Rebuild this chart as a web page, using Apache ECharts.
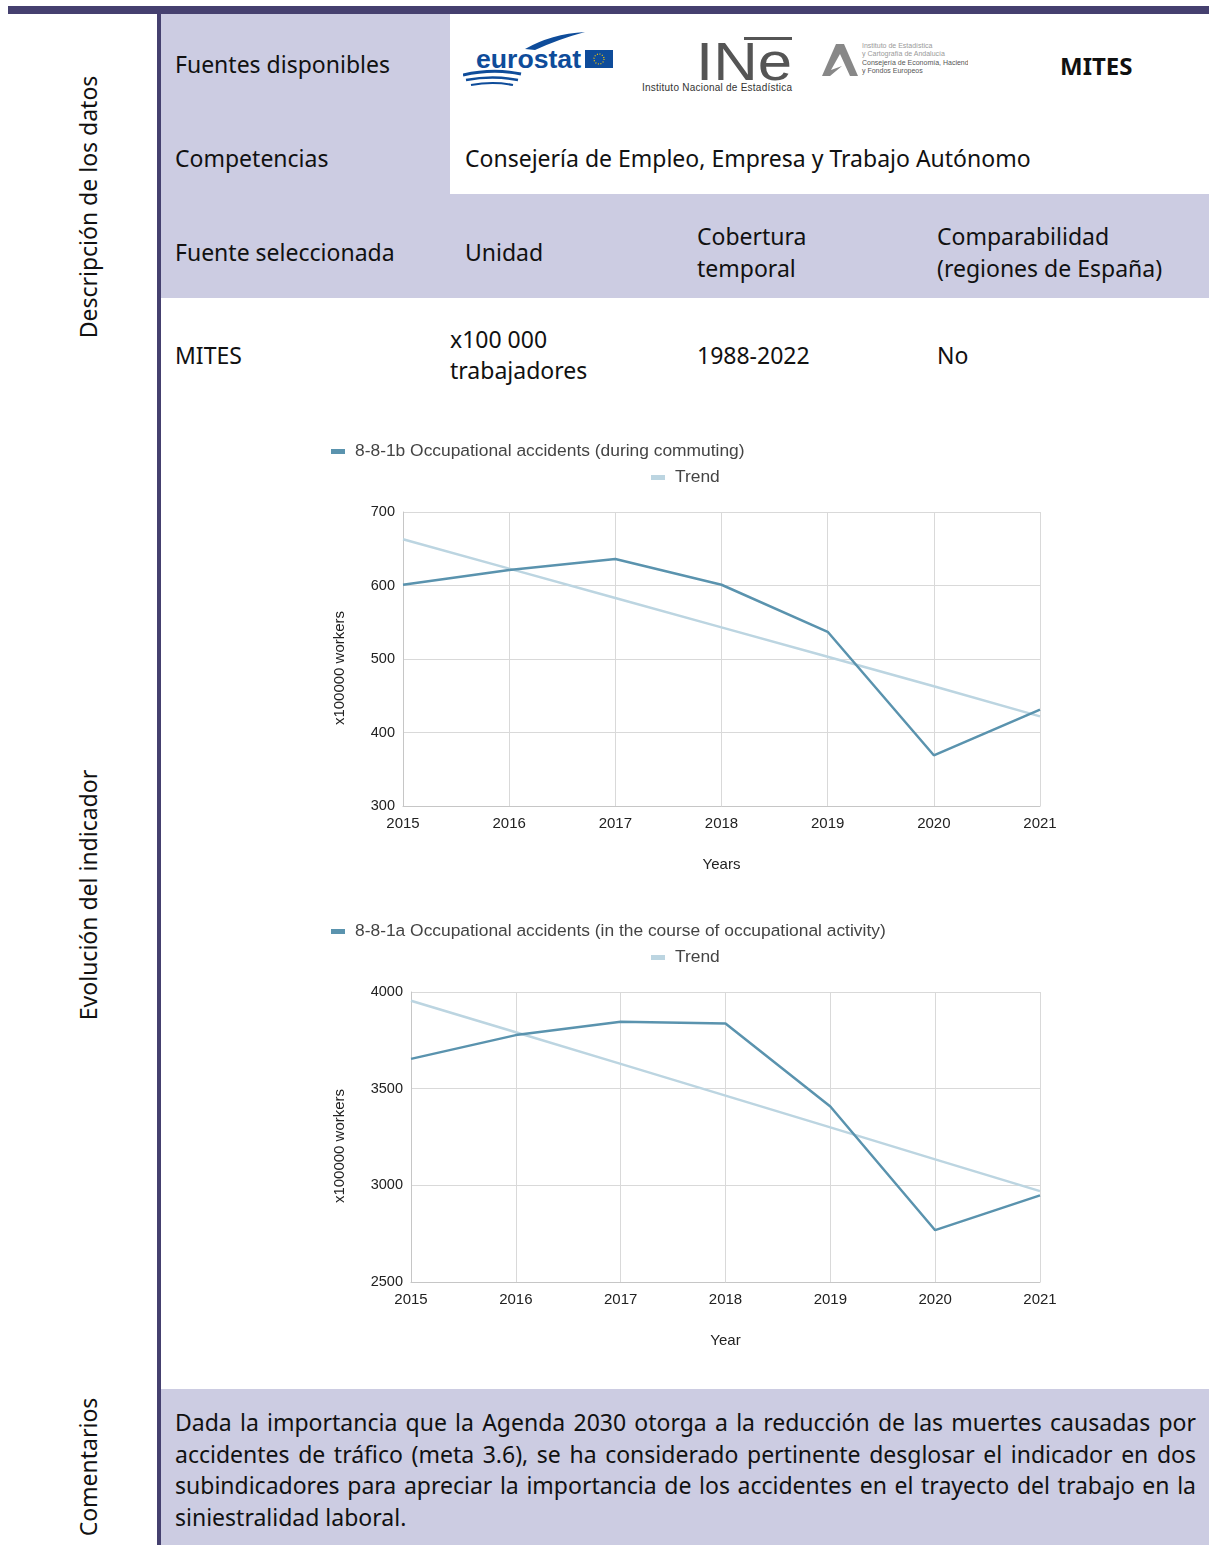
<!DOCTYPE html>
<html>
<head>
<meta charset="utf-8">
<script src="https://cdn.jsdelivr.net/npm/echarts@6/dist/echarts.min.js"></script>
<style>
body{margin:0;width:1209px;height:1545px;position:relative;background:#fff;font-family:"Noto Sans",sans-serif;color:#111;overflow:hidden}
.box{position:absolute}
.lav{background:#cccce2}
.dark{background:#45406f}
.t{position:absolute;font-size:23px;line-height:32px;white-space:nowrap}
.side{position:absolute;font-size:23px;white-space:nowrap;transform:translate(-50%,-50%) rotate(-90deg)}
#comment{position:absolute;left:175px;top:1407px;width:1021px;font-size:23px;line-height:31.5px}
#comment span{display:block;text-align:justify;text-align-last:justify;white-space:nowrap}
#comment span.last{text-align-last:left}
#chart{position:absolute;left:0;top:0;width:1209px;height:1545px;z-index:2}
</style>
</head>
<body>
<!-- marco -->
<div class="box dark" style="left:8px;top:6px;width:1201px;height:8px"></div>
<div class="box dark" style="left:157px;top:14px;width:4px;height:1531px"></div>
<div class="box lav" style="left:161px;top:14px;width:289px;height:284px"></div>
<div class="box lav" style="left:450px;top:194px;width:759px;height:104px"></div>
<div class="box lav" style="left:161px;top:1389px;width:1048px;height:156px"></div>

<div class="side" style="left:88px;top:207px">Descripción de los datos</div>
<div class="side" style="left:88px;top:895px">Evolución del indicador</div>
<div class="side" style="left:88px;top:1467px">Comentarios</div>

<!-- tabla -->
<div class="t" style="left:175px;top:48px">Fuentes disponibles</div>
<div class="t" style="left:175px;top:142px">Competencias</div>
<div class="t" style="left:465px;top:142px">Consejería de Empleo, Empresa y Trabajo Autónomo</div>
<div class="t" style="left:175px;top:236px">Fuente seleccionada</div>
<div class="t" style="left:465px;top:236px">Unidad</div>
<div class="t" style="left:697px;top:220px">Cobertura<br>temporal</div>
<div class="t" style="left:937px;top:220px">Comparabilidad<br>(regiones de España)</div>
<div class="t" style="left:175px;top:339px">MITES</div>
<div class="t" style="left:450px;top:324px;line-height:31px">x100 000<br>trabajadores</div>
<div class="t" style="left:697px;top:339px">1988-2022</div>
<div class="t" style="left:937px;top:339px">No</div>

<!-- logos -->
<svg class="box" style="left:463px;top:30px" width="152" height="58">
  <path d="M62,19 Q88,4 122,2 Q96,9 72,20 Z" fill="#0e4c9a"/>
  <text x="13" y="38" font-family="Liberation Sans" font-weight="bold" font-size="25" fill="#0e4c9a" textLength="105" lengthAdjust="spacingAndGlyphs">eurostat</text>
  <rect x="122" y="20" width="28" height="18" fill="#0e4c9a"/>
  <circle cx="136" cy="29" r="5" fill="none" stroke="#ffcc00" stroke-width="1.2" stroke-dasharray="1 1.6"/>
  <path d="M0,45 Q30,38 58,44" stroke="#0e4c9a" stroke-width="3" fill="none"/>
  <path d="M3,50 Q30,45 55,50" stroke="#0e4c9a" stroke-width="2.5" fill="none"/>
  <path d="M8,55 Q30,51 50,55" stroke="#0e4c9a" stroke-width="2" fill="none"/>
</svg>
<svg class="box" style="left:640px;top:34px" width="156" height="60">
  <rect x="104" y="3" width="48" height="3" fill="#555"/>
  <text x="56" y="46" font-family="Liberation Sans Narrow, Liberation Sans" font-size="54" fill="#555" textLength="96" lengthAdjust="spacingAndGlyphs">INe</text>
  <text x="2" y="57" font-family="Liberation Sans" font-size="10" fill="#333" textLength="150">Instituto Nacional de Estadística</text>
</svg>
<svg class="box" style="left:822px;top:40px" width="146" height="40">
  <polygon points="0,36 14,4 22,4 36,36 28,36 18,14 9,30 20,26 8,36" fill="#888"/>
  <text x="40" y="8" font-family="Liberation Sans" font-size="7" fill="#999">Instituto de Estadística</text>
  <text x="40" y="16" font-family="Liberation Sans" font-size="7" fill="#999">y Cartografía de Andalucía</text>
  <text x="40" y="25" font-family="Liberation Sans" font-size="7" fill="#555">Consejería de Economía, Hacienda</text>
  <text x="40" y="33" font-family="Liberation Sans" font-size="7" fill="#555">y Fondos Europeos</text>
</svg>
<div class="t" style="left:1060px;top:50px;font-weight:700;font-size:24px">MITES</div>

<div id="comment">
<span>Dada la importancia que la Agenda 2030 otorga a la reducción de las muertes causadas por</span>
<span>accidentes de tráfico (meta 3.6), se ha considerado pertinente desglosar el indicador en dos</span>
<span>subindicadores para apreciar la importancia de los accidentes en el trayecto del trabajo en la</span>
<span class="last">siniestralidad laboral.</span>
</div>

<div id="chart"></div>

<script>
// datos
var years = ['2015', '2016', '2017', '2018', '2019', '2020', '2021'];
var commuting = [601, 621, 636, 601, 537, 369, 431];
var commutingTrend = [663, 623, 583, 543, 503, 463, 422];
var activity = [3654, 3777, 3846, 3837, 3408, 2768, 2948];
var activityTrend = [3955, 3792, 3628, 3464, 3300, 3134, 2970];
var nameCommuting = '8-8-1b Occupational accidents (during commuting)';
var nameActivity = '8-8-1a Occupational accidents (in the course of occupational activity)';
var nameTrend = 'Trend';

var mainColor = '#5a93ae';
var trendColor = '#bcd5e1';
var font = 'Liberation Sans';

function legendAt(name, left, top) {
	return {
		data: [name],
		left: left,
		top: top,
		padding: 0,
		icon: 'rect',
		itemWidth: 14,
		itemHeight: 5,
		textStyle: { fontSize: 17.4, color: '#444', fontFamily: font, padding: [0, 0, 0, 5] }
	};
}

function xAxisAt(idx, name) {
	return {
		gridIndex: idx,
		type: 'category',
		data: years,
		boundaryGap: false,
		axisLine: { lineStyle: { color: '#c6c6c6' } },
		axisTick: { show: false },
		axisLabel: { fontSize: 15, color: '#222', fontFamily: font, margin: 10 },
		splitLine: { show: true, lineStyle: { color: '#d9d9d9' } },
		name: name,
		nameLocation: 'middle',
		nameGap: 51,
		nameTextStyle: { fontSize: 15, color: '#222', fontFamily: font }
	};
}

function yAxisAt(idx, min, max, step, gap) {
	return {
		gridIndex: idx,
		type: 'value',
		min: min,
		max: max,
		interval: step,
		axisLine: { show: true, lineStyle: { color: '#c6c6c6' } },
		axisTick: { show: false },
		axisLabel: {
			fontSize: 14.5, color: '#222', fontFamily: font, margin: 8,
			formatter: function (v) { return String(v); }
		},
		splitLine: { lineStyle: { color: '#d9d9d9' } },
		name: 'x100000 workers',
		nameLocation: 'middle',
		nameRotate: 90,
		nameGap: gap,
		// el título va algo por debajo del centro del eje
		nameTextStyle: { fontSize: 15, color: '#222', fontFamily: font, padding: [0, 18, 0, 0] }
	};
}

function lineSeries(name, data, idx, color) {
	return {
		name: name,
		type: 'line',
		xAxisIndex: idx,
		yAxisIndex: idx,
		data: data,
		symbol: 'none',
		itemStyle: { color: color },
		lineStyle: { color: color, width: 2.5 }
	};
}

var myChart = echarts.init(document.getElementById('chart'));
myChart.setOption({
	animation: false,
	legend: [
		legendAt(nameCommuting, 331, 443),
		legendAt(nameTrend, 651, 469),
		legendAt(nameActivity, 331, 923),
		legendAt(nameTrend, 651, 949)
	],
	grid: [
		{ left: 403, top: 512, width: 637, height: 294 },
		{ left: 411, top: 992, width: 629, height: 290 }
	],
	xAxis: [xAxisAt(0, 'Years'), xAxisAt(1, 'Year')],
	yAxis: [yAxisAt(0, 300, 700, 100, 56), yAxisAt(1, 2500, 4000, 500, 64)],
	series: [
		lineSeries(nameTrend, commutingTrend, 0, trendColor),
		lineSeries(nameCommuting, commuting, 0, mainColor),
		lineSeries(nameTrend, activityTrend, 1, trendColor),
		lineSeries(nameActivity, activity, 1, mainColor)
	]
});
</script>
</body>
</html>
